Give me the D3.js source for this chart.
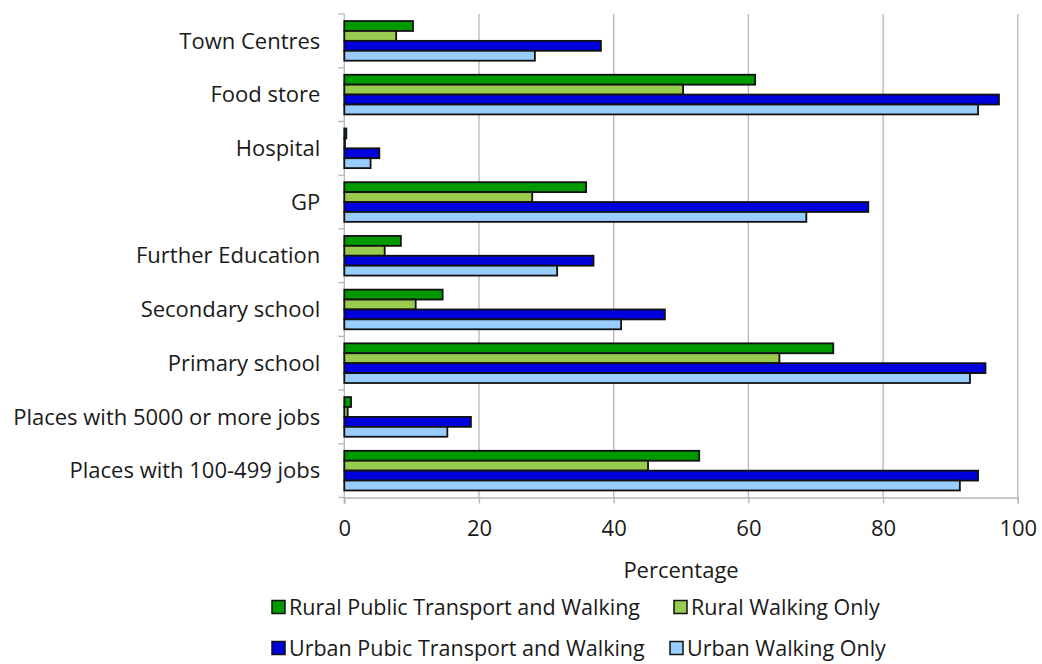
<!DOCTYPE html>
<html>
<head>
<meta charset="utf-8">
<script src="https://cdn.jsdelivr.net/npm/d3@7"></script>
<style>
  html, body { margin: 0; padding: 0; background: #fff; }
  svg text { font-family: "Open Sans", "Noto Sans", sans-serif; fill: #1a1a1a; }
</style>
</head>
<body>
<svg id="chart" width="1042" height="664"></svg>
<script>
// Destinations, listed top to bottom
const categories = [
  "Town Centres",
  "Food store",
  "Hospital",
  "GP",
  "Further Education",
  "Secondary school",
  "Primary school",
  "Places with 5000 or more jobs",
  "Places with 100-499 jobs"
];

const seriesNames = [
  "Rural Public Transport and Walking",
  "Rural Walking Only",
  "Urban Pubic Transport and Walking",
  "Urban Walking Only"
];

// Percentage of population able to reach each destination
const ruralPTWalk   = [10.2, 61.0, 0.3, 35.9,  8.4, 14.6, 72.6, 1.0, 52.7];
const ruralWalk     = [ 7.7, 50.3, 0.1, 27.9,  6.0, 10.6, 64.6, 0.5, 45.1];
const urbanPTWalk   = [38.1, 97.2, 5.2, 77.8, 37.0, 47.6, 95.2, 18.8, 94.1];
const urbanWalk     = [28.3, 94.1, 3.9, 68.6, 31.6, 41.1, 92.9, 15.3, 91.4];

const seriesColors = ["#009900", "#99cc4e", "#0000dd", "#99ccff"];
const xTicks = [0, 20, 40, 60, 80, 100];

const seriesValues = [ruralPTWalk, ruralWalk, urbanPTWalk, urbanWalk];
const rows = categories.map((c, i) => ({
  category: c,
  values: seriesNames.map((s, j) => ({ series: s, index: j, value: seriesValues[j][i] }))
}));

const svg = d3.select("#chart");
const plot = { left: 344.3, right: 1017.8, top: 14, bottom: 497.5 };
const fontSize = 22;

const x = d3.scaleLinear().domain([0, 100]).range([plot.left, plot.right]);
const pad = 0.262;
const y = d3.scaleBand().domain(categories).range([plot.top, plot.bottom])
  .paddingInner(pad).paddingOuter(pad / 2);
const ySub = d3.scaleBand().domain(d3.range(seriesNames.length)).range([0, y.bandwidth()]);

// Vertical gridlines
svg.append("g")
  .selectAll("line")
  .data(xTicks.filter(t => t > 0))
  .join("line")
  .attr("x1", d => x(d)).attr("x2", d => x(d))
  .attr("y1", plot.top).attr("y2", plot.bottom)
  .attr("stroke", "#b5b5b5").attr("stroke-width", 1.3);

// Bottom axis
const xAxis = d3.axisBottom(x).tickValues(xTicks).tickSize(6).tickPadding(17);
const gx = svg.append("g")
  .attr("transform", `translate(0,${plot.bottom})`)
  .call(xAxis);
gx.select(".domain").attr("stroke", "#b5b5b5").attr("stroke-width", 1.3);
gx.selectAll(".tick line").attr("stroke", "#b5b5b5").attr("stroke-width", 1.3);
gx.selectAll(".tick text")
  .attr("font-size", fontSize)
  .attr("font-family", "Open Sans, sans-serif")
  .attr("fill", "#1a1a1a");

// Left axis: ticks at band boundaries, labels centred in each band
const gy = svg.append("g").attr("transform", `translate(${plot.left},0)`);
gy.append("line")
  .attr("x1", 0).attr("x2", 0)
  .attr("y1", plot.top).attr("y2", plot.bottom + 6)
  .attr("stroke", "#b5b5b5").attr("stroke-width", 1.3);
const boundaries = categories.map(c => y(c) - y.step() * pad / 2).concat([plot.bottom]);
gy.selectAll("line.tick")
  .data(boundaries)
  .join("line")
  .attr("class", "tick")
  .attr("x1", -6).attr("x2", 0)
  .attr("y1", d => d).attr("y2", d => d)
  .attr("stroke", "#b5b5b5").attr("stroke-width", 1.3);
gy.selectAll("text")
  .data(categories)
  .join("text")
  .attr("x", -24)
  .attr("y", d => y(d) + y.bandwidth() / 2)
  .attr("dy", "0.35em")
  .attr("text-anchor", "end")
  .attr("font-size", fontSize)
  .text(d => d);

// Bars
const groups = svg.append("g")
  .selectAll("g")
  .data(rows)
  .join("g")
  .attr("transform", d => `translate(0,${y(d.category)})`);

groups.selectAll("rect")
  .data(d => d.values)
  .join("rect")
  .attr("x", x(0))
  .attr("y", d => ySub(d.index))
  .attr("width", d => x(d.value) - x(0))
  .attr("height", ySub.bandwidth())
  .attr("fill", d => seriesColors[d.index])
  .attr("stroke", "#111")
  .attr("stroke-width", 1.8);

// Axis title
svg.append("text")
  .attr("x", (plot.left + plot.right) / 2)
  .attr("y", 570)
  .attr("dy", "0.35em")
  .attr("text-anchor", "middle")
  .attr("font-size", fontSize)
  .text("Percentage");

// Legend, two rows of two entries
const legendPos = [
  { sx: 272, ty: 607 },
  { sx: 674, ty: 607 },
  { sx: 272, ty: 648 },
  { sx: 670, ty: 648 }
];
const legend = svg.append("g")
  .selectAll("g")
  .data(seriesNames)
  .join("g")
  .attr("transform", (d, i) => `translate(${legendPos[i].sx},${legendPos[i].ty})`);
legend.append("rect")
  .attr("x", 0).attr("y", -6.5)
  .attr("width", 13).attr("height", 13)
  .attr("fill", (d, i) => seriesColors[i])
  .attr("stroke", "#111").attr("stroke-width", 1.5);
legend.append("text")
  .attr("x", 17).attr("y", 0)
  .attr("dy", "0.35em")
  .attr("font-size", 21.5)
  .text(d => d);
</script>
</body>
</html>
